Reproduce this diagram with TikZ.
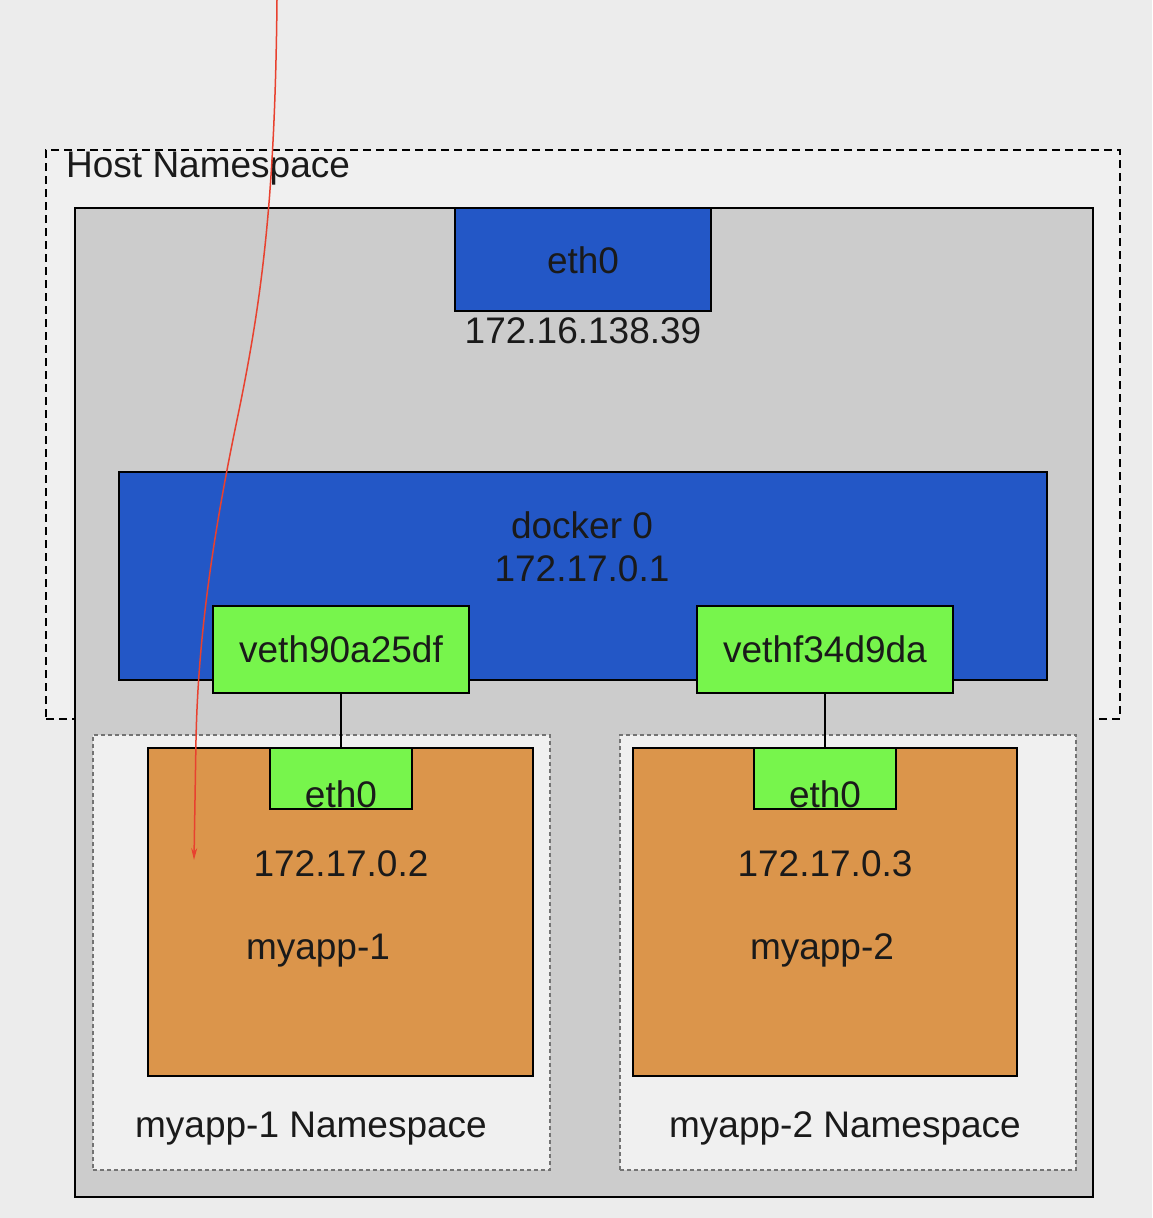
\documentclass[tikz,border=0pt]{standalone}
\usepackage{fontspec}
\setmainfont{Liberation Sans}
\usetikzlibrary{arrows.meta}
\definecolor{bgc}{HTML}{ECECEC}
\definecolor{nsc}{HTML}{F0F0F0}
\definecolor{hostc}{HTML}{CCCCCC}
\definecolor{bluec}{HTML}{2357C6}
\definecolor{greenc}{HTML}{77F54C}
\definecolor{orangec}{HTML}{DB954B}
\definecolor{redc}{HTML}{E8412F}
\definecolor{txtc}{HTML}{1A1A1A}
\tikzset{
  box/.style={draw=black, line width=2.2pt, inner sep=0pt, outer sep=0pt, anchor=north west},
  bluebox/.style={box, fill=bluec},
  greenbox/.style={box, fill=greenc},
  orangebox/.style={box, fill=orangec},
  appns/.style={draw=black!55, line width=1.5pt, dash pattern=on 4pt off 3pt, fill=nsc, inner sep=0pt, anchor=north west},
  lbl/.style={font=\fontsize{37}{44}\selectfont, text=txtc, inner sep=0pt, anchor=base},
}
\begin{document}
\begin{tikzpicture}[x=1pt,y=-1pt]
\useasboundingbox[fill=bgc] (0,0) rectangle (1152,1218);
% host namespace (dashed)
\node[draw=black, line width=2pt, dash pattern=on 8pt off 5pt, fill=nsc, inner sep=0pt, anchor=north west,
  minimum width=1074pt, minimum height=569pt] (hostns) at (45,149) {};
\node[lbl, anchor=base west] (hostnslbl) at (66,177) {Host Namespace};
% host gray box
\node[box, fill=hostc, minimum width=1018pt, minimum height=989pt] (host) at (75,208) {};
% eth0 host
\node[bluebox, minimum width=256pt, minimum height=103pt] (eth0h) at (455,208) {};
\node[lbl] (eth0hl) at (583,273) {eth0};
\node[lbl] (hostip) at (583,343) {172.16.138.39};
% docker0
\node[bluebox, minimum width=928pt, minimum height=208pt] (docker) at (119,472) {};
\node[lbl] (dockerl) at (582,538) {docker 0};
\node[lbl] (dockerip) at (582,581) {172.17.0.1};
% app namespaces
\node[appns, minimum width=457pt, minimum height=435pt] (ns1) at (92,734) {};
\node[appns, minimum width=456pt, minimum height=435pt] (ns2) at (619,734) {};
\node[lbl] (ns1l) at (311,1137) {myapp-1 Namespace};
\node[lbl] (ns2l) at (845,1137) {myapp-2 Namespace};
% containers
\node[orangebox, minimum width=385pt, minimum height=328pt] (app1) at (148,748) {};
\node[orangebox, minimum width=384pt, minimum height=328pt] (app2) at (633,748) {};
\node[lbl] (app1l) at (318,959) {myapp-1};
\node[lbl] (app2l) at (822,959) {myapp-2};
% veths
\node[greenbox, minimum width=256pt, minimum height=87pt] (veth1) at (213,606) {};
\node[lbl] (veth1l) at (341,662) {veth90a25df};
\node[greenbox, minimum width=256pt, minimum height=87pt] (veth2) at (697,606) {};
\node[lbl] (veth2l) at (825,662) {vethf34d9da};
% container eth0
\node[greenbox, minimum width=142pt, minimum height=61pt] (eth1) at (270,748) {};
\node[lbl] (eth1l) at (341,807) {eth0};
\node[greenbox, minimum width=142pt, minimum height=61pt] (eth2) at (754,748) {};
\node[lbl] (eth2l) at (825,807) {eth0};
\node[lbl] (ip1) at (341,876) {172.17.0.2};
\node[lbl] (ip2) at (825,876) {172.17.0.3};
% links
\draw[line width=1.5pt] (veth1.south) -- (veth1.south |- eth1.north);
\draw[line width=1.5pt] (veth2.south) -- (veth2.south |- eth2.north);
% red arrow
\coordinate (rsrc) at (277,0);
\coordinate (rdst) at (194,860);
\draw[redc, line width=1.5pt, -{Stealth[length=12pt,width=6pt]}]
  (rsrc) .. controls (275,200) and (262,300) .. (237,420)
  .. controls (212,540) and (198,640) .. (196,740) -- (rdst);
\end{tikzpicture}
\end{document}
